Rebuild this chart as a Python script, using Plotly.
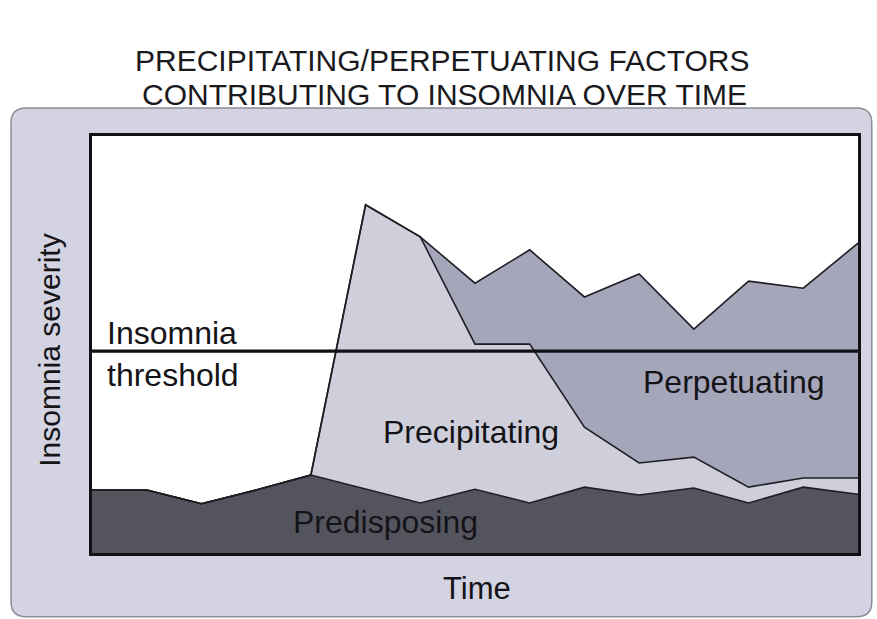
import plotly.graph_objects as go

# ---- data ----
time = list(range(15))
predisposing = [15.1, 15.1, 11.8, 15.1, 18.7, 15.3, 12.0, 15.3, 12.0, 15.8, 13.9, 15.6, 12.0, 15.8, 14.1]
precipitating = [0, 0, 0, 0, 0, 68.2, 63.8, 34.8, 38.1, 14.4, 7.7, 7.4, 3.8, 2.2, 3.9]
perpetuating = [0, 0, 0, 0, 0, 0, 0, 14.6, 22.6, 31.2, 45.3, 30.7, 49.4, 45.5, 56.3]
threshold = 48.4

title_lines = ["PRECIPITATING/PERPETUATING FACTORS", "CONTRIBUTING TO INSOMNIA OVER TIME"]

FONT = "Liberation Sans, Arial, Helvetica, sans-serif"
LINE = "#1e1e24"

fig = go.Figure()
fig.add_trace(go.Scatter(x=time, y=predisposing, stackgroup="s", mode="lines",
                         line=dict(color=LINE, width=1.6), fillcolor="#54545e",
                         name="Predisposing", hoverinfo="skip"))
fig.add_trace(go.Scatter(x=time, y=precipitating, stackgroup="s", mode="lines",
                         line=dict(color=LINE, width=1.6), fillcolor="#cfcfdc",
                         name="Precipitating", hoverinfo="skip"))
fig.add_trace(go.Scatter(x=time, y=perpetuating, stackgroup="s", mode="lines",
                         line=dict(color=LINE, width=1.6), fillcolor="#a6a6bb",
                         name="Perpetuating", hoverinfo="skip"))

# threshold line
fig.add_trace(go.Scatter(x=[time[0], time[-1]], y=[threshold, threshold], mode="lines",
                         line=dict(color="#111116", width=3.2), hoverinfo="skip", showlegend=False))

# outer rounded grey panel (paper coords)
x0, x1, y0, y1 = -0.1057, 1.018, -0.153, 1.067
rx, ry = 0.0196, 0.036
path = (f"M {x0+rx},{y1} L {x1-rx},{y1} Q {x1},{y1} {x1},{y1-ry} "
        f"L {x1},{y0+ry} Q {x1},{y0} {x1-rx},{y0} L {x0+rx},{y0} Q {x0},{y0} {x0},{y0+ry} "
        f"L {x0},{y1-ry} Q {x0},{y1} {x0+rx},{y1} Z")
fig.add_shape(type="path", path=path, xref="paper", yref="paper", layer="below",
              fillcolor="#d3d3e1", line=dict(color="#8c8c98", width=1.5))
fig.add_shape(type="rect", xref="x", yref="y", x0=0, x1=14, y0=0, y1=100, layer="below",
              fillcolor="white", line=dict(width=0))

ann_font = dict(family=FONT, size=32, color="#141418")
anns = [
    dict(x=0.24, y=52.8, text="Insomnia", xanchor="left", yanchor="middle"),
    dict(x=0.24, y=42.7, text="threshold", xanchor="left", yanchor="middle"),
    dict(x=6.92, y=29.0, text="Precipitating", xanchor="center", yanchor="middle"),
    dict(x=11.72, y=41.0, text="Perpetuating", xanchor="center", yanchor="middle"),
    dict(x=5.36, y=7.4, text="Predisposing", xanchor="center", yanchor="middle"),
]
for a in anns:
    fig.add_annotation(xref="x", yref="y", showarrow=False, font=ann_font, **a)

fig.add_annotation(xref="paper", yref="paper", x=0.503, y=-0.086, text="Time", showarrow=False,
                   font=dict(family=FONT, size=31, color="#141418"), xanchor="center", yanchor="middle")
fig.add_annotation(xref="paper", yref="paper", x=-0.055, y=0.487, text="Insomnia severity",
                   showarrow=False, textangle=-90,
                   font=dict(family=FONT, size=30, color="#141418"), xanchor="center", yanchor="middle")
fig.add_annotation(xref="paper", yref="paper", x=0.457, y=1.180, text=title_lines[0], showarrow=False,
                   font=dict(family=FONT, size=30, color="#1a1a1e"), xanchor="center", yanchor="middle")
fig.add_annotation(xref="paper", yref="paper", x=0.460, y=1.100, text=title_lines[1], showarrow=False,
                   font=dict(family=FONT, size=30, color="#1a1a1e"), xanchor="center", yanchor="middle")

fig.update_xaxes(range=[0, 14], showline=True, mirror=True, linecolor="#111116", linewidth=3,
                 showgrid=False, zeroline=False, showticklabels=False, ticks="")
fig.update_yaxes(range=[0, 100], showline=True, mirror=True, linecolor="#111116", linewidth=3,
                 showgrid=False, zeroline=False, showticklabels=False, ticks="")
fig.update_layout(width=877, height=619, margin=dict(l=92, r=19, t=136, b=66),
                  paper_bgcolor="white", plot_bgcolor="white", showlegend=False)

fig.write_html("out.html", config={"displayModeBar": False},
               post_script="document.body.style.margin='0';document.body.style.padding='0';")
